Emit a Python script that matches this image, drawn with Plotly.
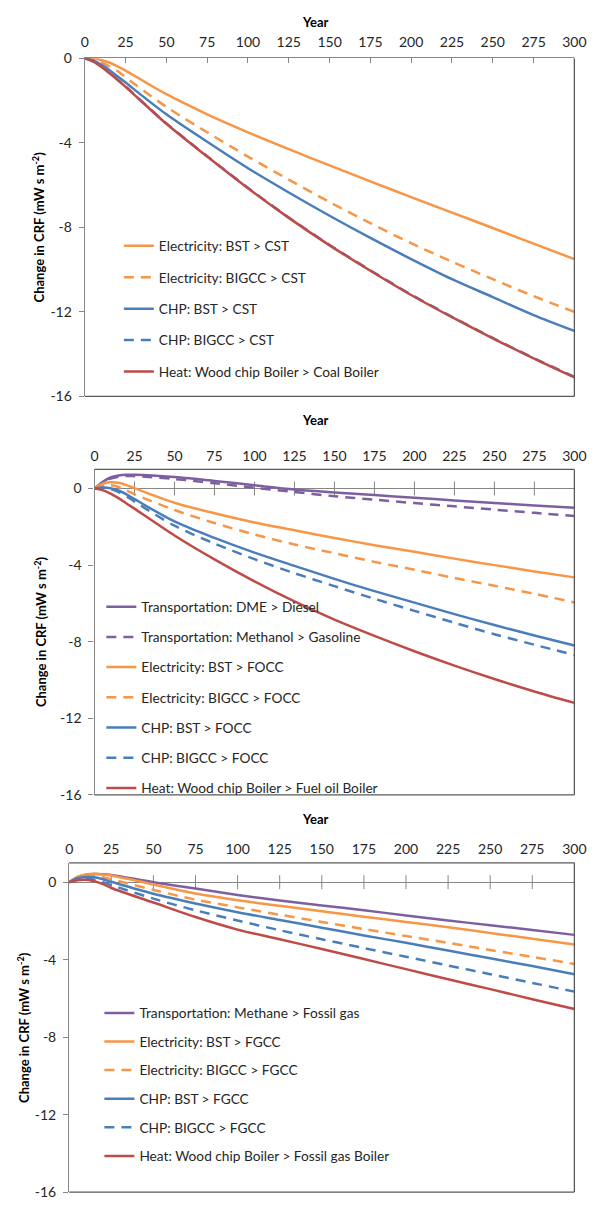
import plotly.graph_objects as go

# ---------------- data ----------------
years = [0, 5, 10, 15, 20, 25, 50, 75, 100, 125, 150, 175, 200, 225, 250, 275, 300]
x_ticks = [0, 25, 50, 75, 100, 125, 150, 175, 200, 225, 250, 275, 300]
y_ticks = [0, -4, -8, -12, -16]

# Panel 1 (vs coal)
p1_names = ["Electricity: BST > CST", "Electricity: BIGCC > CST", "CHP: BST > CST",
            "CHP: BIGCC > CST", "Heat: Wood chip Boiler > Coal Boiler"]
p1_elec_bst = [0, -0.01, -0.08, -0.2, -0.38, -0.58, -1.7, -2.65, -3.5, -4.3, -5.07, -5.82, -6.57, -7.3, -8.03, -8.77, -9.5]
p1_elec_bigcc = [0, -0.05, -0.18, -0.38, -0.6, -0.9, -2.3, -3.5, -4.65, -5.74, -6.8, -7.8, -8.75, -9.62, -10.45, -11.25, -12.0]
p1_chp_bst = [0, -0.1, -0.3, -0.55, -0.85, -1.15, -2.65, -3.95, -5.2, -6.35, -7.45, -8.5, -9.5, -10.45, -11.3, -12.15, -12.9]
p1_chp_bigcc = [0, -0.14, -0.38, -0.68, -1.0, -1.33, -3.08, -4.63, -6.13, -7.53, -8.83, -10.03, -11.18, -12.23, -13.23, -14.18, -15.07]
p1_heat = [0, -0.15, -0.4, -0.7, -1.02, -1.35, -3.1, -4.65, -6.15, -7.55, -8.85, -10.05, -11.2, -12.25, -13.25, -14.2, -15.1]

# Panel 2 (vs fuel oil)
p2_names = ["Transportation: DME > Diesel", "Transportation: Methanol > Gasoline",
            "Electricity: BST > FOCC", "Electricity: BIGCC > FOCC", "CHP: BST > FOCC",
            "CHP: BIGCC > FOCC", "Heat: Wood chip Boiler > Fuel oil Boiler"]
p2_dme = [0, 0.34, 0.58, 0.68, 0.72, 0.72, 0.6, 0.4, 0.17, -0.05, -0.2, -0.34, -0.48, -0.62, -0.75, -0.88, -1.0]
p2_methanol = [0, 0.3, 0.52, 0.62, 0.66, 0.65, 0.5, 0.28, 0.04, -0.18, -0.4, -0.58, -0.76, -0.93, -1.1, -1.27, -1.43]
p2_elec_bst = [0, 0.25, 0.33, 0.3, 0.18, 0.02, -0.74, -1.29, -1.77, -2.18, -2.58, -2.96, -3.3, -3.66, -4.0, -4.33, -4.64]
p2_elec_bigcc = [0, 0.15, 0.17, 0.08, -0.1, -0.3, -1.12, -1.8, -2.4, -2.92, -3.38, -3.83, -4.24, -4.67, -5.08, -5.5, -5.95]
p2_chp_bst = [0, 0.05, 0.02, -0.1, -0.3, -0.55, -1.72, -2.58, -3.35, -4.04, -4.72, -5.36, -5.96, -6.56, -7.13, -7.68, -8.2]
p2_chp_bigcc = [0, 0.03, -0.03, -0.18, -0.4, -0.68, -1.94, -2.87, -3.69, -4.42, -5.1, -5.76, -6.39, -7.01, -7.61, -8.16, -8.7]
p2_heat = [0, -0.08, -0.26, -0.5, -0.78, -1.05, -2.45, -3.7, -4.85, -5.9, -6.85, -7.7, -8.5, -9.25, -9.95, -10.6, -11.2]

# Panel 3 (vs fossil gas)
p3_names = ["Transportation: Methane > Fossil gas", "Electricity: BST > FGCC",
            "Electricity: BIGCC > FGCC", "CHP: BST > FGCC", "CHP: BIGCC > FGCC",
            "Heat: Wood chip Boiler > Fossil gas Boiler"]
p3_methane = [0, 0.25, 0.38, 0.42, 0.41, 0.37, 0.0, -0.33, -0.66, -0.95, -1.2, -1.45, -1.72, -1.98, -2.22, -2.47, -2.72]
p3_elec_bst = [0, 0.28, 0.4, 0.43, 0.4, 0.34, -0.12, -0.58, -0.93, -1.22, -1.5, -1.78, -2.05, -2.33, -2.62, -2.92, -3.22]
p3_elec_bigcc = [0, 0.22, 0.32, 0.32, 0.25, 0.15, -0.4, -0.9, -1.3, -1.68, -2.05, -2.42, -2.78, -3.13, -3.5, -3.86, -4.22]
p3_chp_bst = [0, 0.2, 0.27, 0.25, 0.15, 0.02, -0.6, -1.1, -1.55, -1.95, -2.35, -2.75, -3.13, -3.53, -3.93, -4.33, -4.75]
p3_chp_bigcc = [0, 0.15, 0.19, 0.13, 0.0, -0.15, -0.85, -1.45, -1.98, -2.48, -2.95, -3.4, -3.85, -4.3, -4.75, -5.2, -5.65]
p3_heat = [0, 0.1, 0.12, 0.05, -0.1, -0.3, -1.05, -1.8, -2.45, -2.95, -3.45, -3.97, -4.49, -5.01, -5.52, -6.04, -6.55]

# ---------------- styles ----------------
ORANGE = "#F79646"
BLUE = "#4A7EBB"
RED = "#BE4B48"
PURPLE = "#7D5FA0"
AXIS = "#868686"
FRAME = "#595959"
TXT = "#262626"
FONT = "Lato"
FS = 14        # tick labels
LFS = 13.7     # legend text
DASH = "10px,7px"
LW = 2.5

W, H = 600, 1208
ITEM_H = LFS * 1.3 + 3


def px2x(p):
    return min(1.0, max(0.0, p / W))


def px2y(p):
    return min(1.0, max(0.0, 1 - p / H))


panels = [
    dict(left=83, right=586, top=50, bottom=393, yr=[-16, 0], zero_inside=False,
         legend_line_x=123, legend_first=240, legend_step=31.4, title_x=35, year_y=13,
         series=[(p1_names[0], p1_elec_bst, ORANGE, "solid"),
                 (p1_names[1], p1_elec_bigcc, ORANGE, DASH),
                 (p1_names[2], p1_chp_bst, BLUE, "solid"),
                 (p1_names[3], p1_chp_bigcc, BLUE, DASH),
                 (p1_names[4], p1_heat, RED, "solid")]),
    dict(left=93, right=586, top=467, bottom=797, yr=[-16, 1], zero_inside=True,
         legend_line_x=105, legend_first=606, legend_step=30.2, title_x=37, year_y=417,
         series=[(p2_names[0], p2_dme, PURPLE, "solid"),
                 (p2_names[1], p2_methanol, PURPLE, DASH),
                 (p2_names[2], p2_elec_bst, ORANGE, "solid"),
                 (p2_names[3], p2_elec_bigcc, ORANGE, DASH),
                 (p2_names[4], p2_chp_bst, BLUE, "solid"),
                 (p2_names[5], p2_chp_bigcc, BLUE, DASH),
                 (p2_names[6], p2_heat, RED, "solid")]),
    dict(left=67, right=586, top=866, bottom=1200, yr=[-16, 1], zero_inside=True,
         legend_line_x=103, legend_first=1018, legend_step=28.6, title_x=20, year_y=822,
         series=[(p3_names[0], p3_methane, PURPLE, "solid"),
                 (p3_names[1], p3_elec_bst, ORANGE, "solid"),
                 (p3_names[2], p3_elec_bigcc, ORANGE, DASH),
                 (p3_names[3], p3_chp_bst, BLUE, "solid"),
                 (p3_names[4], p3_chp_bigcc, BLUE, DASH),
                 (p3_names[5], p3_heat, RED, "solid")]),
]

fig = go.Figure()
layout = dict(width=W, height=H, margin=dict(l=0, r=0, t=0, b=0),
              paper_bgcolor="white", plot_bgcolor="white",
              font=dict(family=FONT, size=FS, color=TXT),
              showlegend=True, annotations=[], shapes=[])

for i, p in enumerate(panels, start=1):
    xa = "x" if i == 1 else f"x{i}"
    ya = "y" if i == 1 else f"y{i}"
    xkey = "xaxis" if i == 1 else f"xaxis{i}"
    ykey = "yaxis" if i == 1 else f"yaxis{i}"
    lkey = "legend" if i == 1 else f"legend{i}"

    if p["zero_inside"]:
        inner = [t for t in x_ticks if t not in (x_ticks[0], x_ticks[-1])]
        fig.add_trace(go.Scatter(x=inner, y=[0] * len(inner), xaxis=xa, yaxis=ya, mode="markers",
                                 marker=dict(symbol="line-ns", size=10,
                                             line=dict(width=1, color=AXIS)),
                                 showlegend=False, hoverinfo="skip"))

    for k, (name, vals, col, dash) in enumerate(p["series"]):
        fig.add_trace(go.Scatter(x=years, y=vals, xaxis=xa, yaxis=ya, name=name, mode="lines",
                                 line=dict(color=col, width=LW, dash=dash, shape="spline", smoothing=0.9),
                                 legend=lkey, legendgroup=f"p{i}g{k}"))

    layout[xkey] = dict(domain=[px2x(p["left"]), px2x(p["right"])], range=[0, 300], anchor=ya,
                        side="top", tickmode="array", tickvals=x_ticks,
                        ticktext=[str(t) for t in x_ticks], showgrid=False, zeroline=False,
                        showline=not p["zero_inside"], linecolor=AXIS, linewidth=1.3,
                        ticks="" if p["zero_inside"] else "inside", ticklen=5, tickcolor=AXIS,
                        ticklabelstandoff=5, tickfont=dict(size=FS, color=TXT, family=FONT))
    layout[ykey] = dict(domain=[px2y(p["bottom"]), px2y(p["top"])], range=p["yr"], anchor=xa,
                        tickmode="array", tickvals=y_ticks, ticktext=[str(t) for t in y_ticks],
                        showgrid=False, zeroline=p["zero_inside"], zerolinecolor=AXIS, zerolinewidth=1.3,
                        showline=True, linecolor=AXIS, linewidth=1.3, ticks="outside", ticklen=5,
                        tickcolor=AXIS, ticklabelstandoff=4,
                        tickfont=dict(size=FS, color=TXT, family=FONT))

    xd, yd = f"{xa} domain", f"{ya} domain"
    sides = [(1, 0, 1, 1), (0, 0, 1, 0)]  # right, bottom
    if p["zero_inside"]:
        sides.append((0, 1, 1, 1))  # top
    for (x0, y0, x1, y1) in sides:
        layout["shapes"].append(dict(type="line", xref=xd, yref=yd, x0=x0, y0=y0, x1=x1, y1=y1,
                                     line=dict(color=FRAME, width=1.3), layer="above"))

    legend_top = p["legend_first"] - 5 - ITEM_H / 2
    layout[lkey] = dict(x=px2x(p["legend_line_x"] - 5), xanchor="left",
                        y=px2y(legend_top), yanchor="top",
                        bgcolor="rgba(0,0,0,0)", borderwidth=0, traceorder="grouped",
                        tracegroupgap=p["legend_step"] - ITEM_H,
                        font=dict(family=FONT, size=LFS, color=TXT))

    layout["annotations"].append(dict(text="<b>Year</b>", x=px2x(320), y=px2y(p["year_y"]),
                                      xref="paper", yref="paper", showarrow=False,
                                      font=dict(family=FONT, size=13, color="black"),
                                      xanchor="center", yanchor="middle"))
    layout["annotations"].append(dict(text="<b>Change in CRF (mW s m<sup>-2</sup>)</b>",
                                      x=px2x(p["title_x"]), y=px2y((p["top"] + p["bottom"]) / 2),
                                      xref="paper", yref="paper", showarrow=False, textangle=-90,
                                      font=dict(family=FONT, size=13, color="black"),
                                      xanchor="center", yanchor="middle"))

fig.update_layout(**layout)
fig.write_html("out.html")
